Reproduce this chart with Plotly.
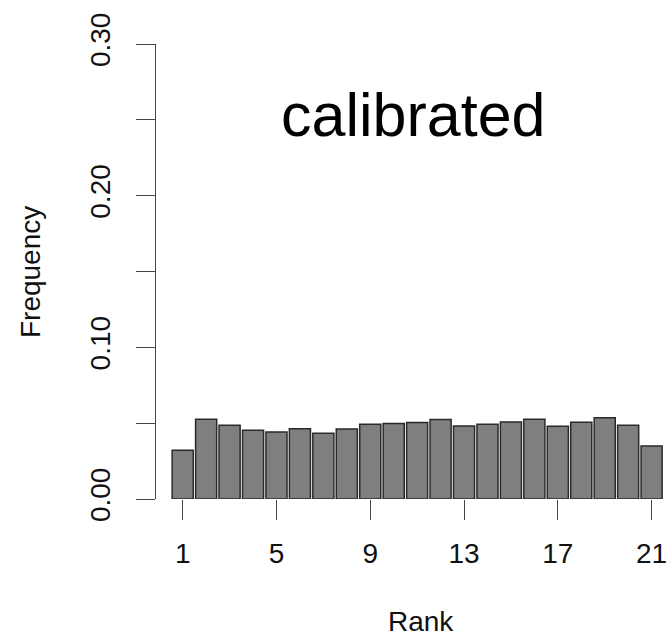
import plotly.graph_objects as go

ranks = list(range(1, 22))
freq = [0.0321, 0.0526, 0.0486, 0.0453, 0.0442, 0.0464, 0.0433, 0.0462, 0.0493, 0.0497,
        0.0504, 0.0524, 0.0482, 0.0493, 0.0508, 0.0526, 0.0480, 0.0506, 0.0535, 0.0486, 0.0350]
x_ticks = [1, 5, 9, 13, 17, 21]
y_ticks = [0.0, 0.05, 0.10, 0.15, 0.20, 0.25, 0.30]
y_labels = ["0.00", "", "0.10", "", "0.20", "", "0.30"]

FONT = "Liberation Sans, Arial, sans-serif"

fig = go.Figure(go.Bar(
    x=ranks, y=freq,
    marker=dict(color="#7f7f7f", line=dict(color="#2a2a2a", width=1.5)),
))

fig.update_layout(
    width=668, height=639,
    margin=dict(l=156, r=0, t=44, b=140),
    paper_bgcolor="white", plot_bgcolor="white",
    bargap=0.1,
    showlegend=False,
    font=dict(family=FONT, size=28, color="#111"),
    xaxis=dict(
        range=[-0.139, 21.70], tickvals=x_ticks, ticktext=[str(v) for v in x_ticks],
        ticks="outside", ticklen=20, tickwidth=1, tickcolor="#444",
        showline=False, showgrid=False, zeroline=False,
        ticklabelstandoff=9,
        tickfont=dict(family=FONT, size=28, color="#111"),
    ),
    yaxis=dict(
        range=[0, 0.30], tickvals=y_ticks, ticktext=y_labels,
        ticks="outside", ticklen=19, tickwidth=1, tickcolor="#444",
        showline=True, linecolor="#444", linewidth=1,
        showgrid=False, zeroline=False, tickangle=-90,
        ticklabelstandoff=15,
        tickfont=dict(family=FONT, size=28, color="#111"),
    ),
    annotations=[
        dict(text="calibrated", x=0.503, y=0.844, xref="paper", yref="paper",
             showarrow=False, xanchor="center", yanchor="middle",
             font=dict(family=FONT, size=61, color="black")),
        dict(text="Rank", x=0.5176, y=-0.3077, xref="paper", yref="paper",
             showarrow=False, xanchor="center", yanchor="bottom",
             font=dict(family=FONT, size=28, color="#111")),
        dict(text="Frequency", x=-0.244, y=0.499, xref="paper", yref="paper",
             showarrow=False, xanchor="center", yanchor="middle", textangle=-90,
             font=dict(family=FONT, size=28, color="#111")),
    ],
)

fig.write_html("out.html")
